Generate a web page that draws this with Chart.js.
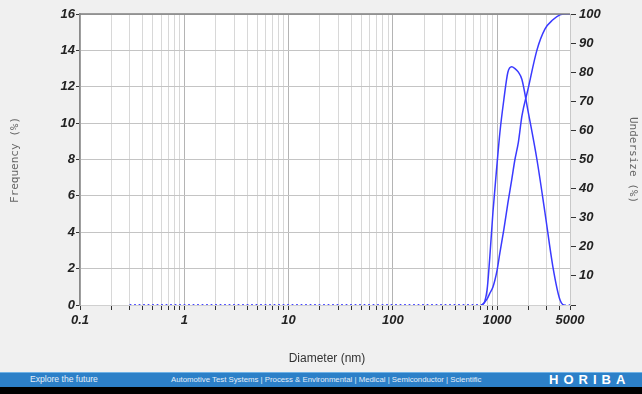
<!DOCTYPE html>
<html>
<head>
<meta charset="utf-8">
<script src="https://cdn.jsdelivr.net/npm/chart.js@4.4.1/dist/chart.umd.min.js"></script>
<style>
  html, body { margin: 0; padding: 0; background: #f0f0f0; }
  #wrap { width: 642px; height: 394px; position: relative; overflow: hidden; }
  #chart { display: block; }
  .foot {
    position: absolute; left: 0; top: 372px; width: 642px; height: 15px;
    background: #2c80c8; border-top: 1px solid #6fb2e6; box-sizing: border-box;
    color: #e4eef8; font-family: "Liberation Sans", Arial, sans-serif;
  }
  .foot span { position: absolute; top: 2px; font-size: 7.8px; white-space: nowrap; }
  .foot .first { font-size: 8.6px; top: 1px; }
  .foot .logo { top: -1px; font-size: 13px; font-weight: bold; letter-spacing: 5px; color: #fff; }
  .black { position: absolute; left: 0; top: 387px; width: 642px; height: 7px; background: #000; }
</style>
</head>
<body>
<div id="wrap">
  <canvas id="chart" width="642" height="372"></canvas>
  <div class="foot">
    <span class="first" style="left:30px">Explore the future</span>
    <span style="left:171px">Automotive Test Systems | Process &amp; Environmental | Medical | Semiconductor | Scientific</span>
    <span class="logo" style="left:549px">HORIBA</span>
  </div>
  <div class="black"></div>
</div>
<script>
// 粒子径 (nm)
const diameters = [0.3, 0.5, 1, 2, 5, 10, 20, 50, 100, 200, 500, 700, 800, 850, 912, 1000, 1064, 1161, 1268, 1380, 1482, 1600, 1730, 1974, 2409, 2873, 3427, 3998, 4400, 5000];
// 頻度 (%)
const frequency = [0, 0, 0, 0, 0, 0, 0, 0, 0, 0, 0, 0, 0.8, 2.6, 5.1, 7.8, 9.5, 11.3, 12.8, 13.1, 13.0, 12.8, 12.4, 10.7, 8.0, 5.1, 2.1, 0.3, 0, 0];
// 積算 (%)
const undersize = [0, 0, 0, 0, 0, 0, 0, 0, 0, 0, 0, 0, 2, 4, 6.2, 12, 18, 26, 35, 43, 50, 56, 65, 74, 87.6, 94.8, 98, 99.7, 100, 100];

const xLabels = [0.1, 1, 10, 100, 1000, 5000];
const xTicks = [0.1, 0.2, 0.3, 0.4, 0.5, 0.6, 0.7, 0.8, 0.9,
  1, 2, 3, 4, 5, 6, 7, 8, 9,
  10, 20, 30, 40, 50, 60, 70, 80, 90,
  100, 200, 300, 400, 500, 600, 700, 800, 900,
  1000, 2000, 3000, 4000, 5000];

const tickFont = { family: 'Liberation Sans', size: 13, weight: 'bold', style: 'italic' };
const lineBlue = '#3a3aff';

// ゼロ区間は点線
const zeroDash = ctx => (ctx.p0.parsed.y === 0 && ctx.p1.parsed.y === 0) ? [1.5, 3] : undefined;

/**
 * 背景と軸タイトル
 */
const framePlugin = {
  id: 'frame',
  beforeDraw(chart) {
    const { ctx, chartArea } = chart;
    ctx.save();
    ctx.fillStyle = '#f0f0f0';
    ctx.fillRect(0, 0, chart.width, chart.height);
    ctx.fillStyle = '#ffffff';
    ctx.fillRect(chartArea.left, chartArea.top, chartArea.right - chartArea.left, chartArea.bottom - chartArea.top);
    ctx.restore();
  },
  afterDraw(chart) {
    const { ctx, chartArea } = chart;
    ctx.save();
    // 上枠
    ctx.strokeStyle = '#808080';
    ctx.lineWidth = 1.5;
    ctx.beginPath();
    ctx.moveTo(chartArea.left, chartArea.top);
    ctx.lineTo(chartArea.right, chartArea.top);
    ctx.stroke();

    ctx.fillStyle = '#666';
    ctx.textAlign = 'center';
    ctx.textBaseline = 'middle';
    ctx.font = '11px "DejaVu Sans Mono", monospace';
    ctx.save();
    ctx.translate(15, 160);
    ctx.rotate(-Math.PI / 2);
    ctx.fillText('Frequency (%)', 0, 0);
    ctx.restore();
    ctx.save();
    ctx.translate(633, 160);
    ctx.rotate(Math.PI / 2);
    ctx.fillText('Undersize (%)', 0, 0);
    ctx.restore();

    ctx.fillStyle = '#333';
    ctx.font = '12px "Liberation Sans", Arial, sans-serif';
    ctx.fillText('Diameter (nm)', 327, 359);
    ctx.restore();
  }
};

const makePoints = values => diameters.map((d, i) => ({ x: d, y: values[i] }));

new Chart(document.getElementById('chart').getContext('2d'), {
  type: 'line',
  data: {
    datasets: [
      {
        label: 'Frequency',
        data: makePoints(frequency),
        yAxisID: 'y',
        borderColor: lineBlue,
        borderWidth: 1.5,
        pointRadius: 0,
        cubicInterpolationMode: 'monotone',
        segment: { borderDash: zeroDash }
      },
      {
        label: 'Undersize',
        data: makePoints(undersize),
        yAxisID: 'y1',
        borderColor: lineBlue,
        borderWidth: 1.5,
        pointRadius: 0,
        cubicInterpolationMode: 'monotone',
        segment: { borderDash: zeroDash }
      }
    ]
  },
  options: {
    responsive: false,
    animation: false,
    layout: { padding: { top: 14, left: 0, right: 0, bottom: 0 } },
    plugins: { legend: { display: false }, tooltip: { enabled: false } },
    scales: {
      x: {
        type: 'logarithmic',
        min: 0.1,
        max: 5000,
        afterBuildTicks(scale) {
          scale.ticks = xTicks.map(v => ({ value: v, major: xLabels.includes(v) }));
        },
        afterFit(scale) { scale.height = 67; },
        ticks: {
          autoSkip: false,
          maxRotation: 0,
          padding: 3,
          color: '#222',
          font: tickFont,
          callback: v => xLabels.includes(v) ? String(v) : ''
        },
        grid: {
          color: ctx => (ctx.tick && xLabels.includes(ctx.tick.value)) ? '#b4b4b4' : '#d8d8d8',
          tickColor: '#333',
          tickLength: 5
        },
        border: { color: '#d0d0d0' }
      },
      y: {
        position: 'left',
        min: 0,
        max: 16,
        afterFit(scale) { scale.width = 80; },
        ticks: {
          stepSize: 1,
          padding: 1,
          color: '#222',
          font: tickFont,
          callback: v => v % 2 === 0 ? v : ''
        },
        grid: {
          color: ctx => (ctx.tick && ctx.tick.value % 2 === 0) ? '#c4c4c4' : '#e2e2e2',
          tickColor: '#333',
          tickLength: 4
        },
        border: { color: '#8a8a8a', width: 1.5 }
      },
      y1: {
        position: 'right',
        min: 0,
        max: 100,
        afterFit(scale) { scale.width = 72; },
        ticks: {
          stepSize: 5,
          padding: 3,
          color: '#222',
          font: tickFont,
          callback: v => (v !== 0 && v % 10 === 0) ? v : ''
        },
        grid: {
          drawOnChartArea: false,
          tickColor: '#333',
          tickLength: 6
        },
        border: { color: '#c8c8c8' }
      }
    }
  },
  plugins: [framePlugin]
});
</script>
</body>
</html>
